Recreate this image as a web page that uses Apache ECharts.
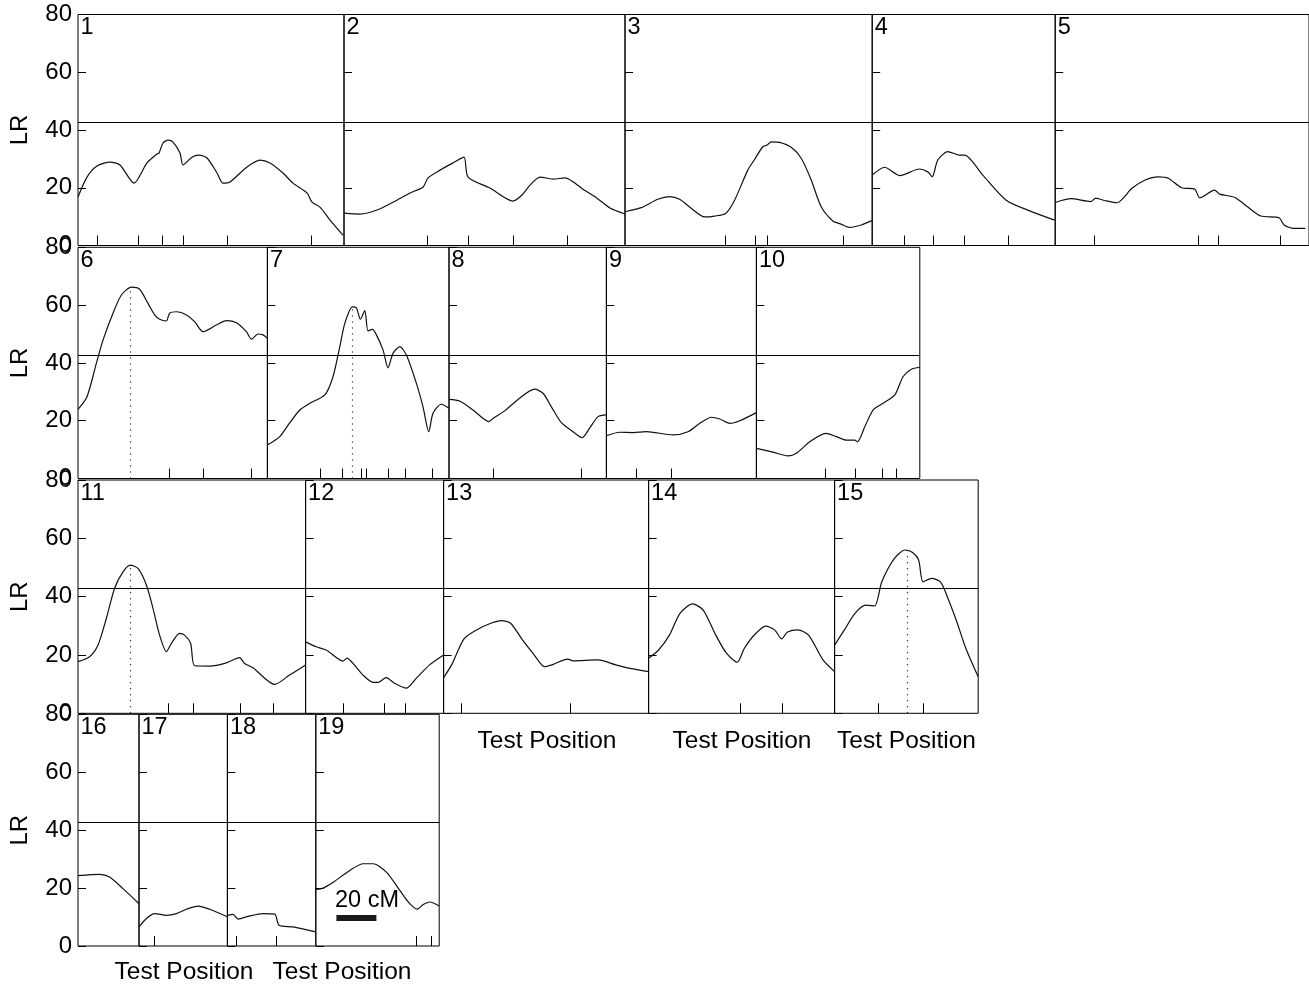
<!DOCTYPE html>
<html>
<head>
<meta charset="utf-8">
<script src="https://cdn.jsdelivr.net/npm/echarts@6/dist/echarts.min.js"></script>
<style>html,body{margin:0;padding:0;background:#fff;}#chart{width:1309px;height:987px;}</style>
</head>
<body>
<div id="chart"></div>
<script>
// ---------------- data ----------------
const chromNames = ['1','2','3','4','5','6','7','8','9','10','11','12','13','14','15','16','17','18','19'];
// chromosome lengths (cM)
const chromLengths = [133,140.5,123.6,91.5,128, 94.7,90.8,78.7,75,81.7, 113.8,69,102.5,93,71.8, 30.5,44.2,44.2,61.7];
const threshold = 42.8;

const chr1 = [[0,16.8],[4.5,23.7],[9.5,27.5],[16,28.9],[21,27.9],[28,21.6],[34.5,28.6],[39.5,31.7],[40.5,32.0],[42.5,35.5],[45,36.5],[47.5,35.8],[51,32.0],[52.5,27.9],[57,30.6],[60.5,31.3],[64.5,30.3],[69.5,25.1],[72.5,21.6],[76,22.0],[84.5,27.2],[91,29.6],[96,28.6],[102.5,25.1],[107.5,21.6],[114.5,18.2],[117,15.0],[121,13.3],[126,8.8],[132.5,3.6]];
const chr2 = [[0,11.2],[8,10.9],[16.5,12.3],[26.5,15.7],[33,18.2],[39.5,20.2],[42,23.4],[48,26.1],[54.5,28.6],[60,30.6],[62,23.7],[73,19.9],[84.5,15.4],[89,17.5],[93,20.9],[98,23.7],[104.5,23.0],[110.5,23.4],[119.5,19.5],[126.5,16.4],[133,13.0],[140.5,10.9]];
const chr3 = [[0,11.7],[8.1,13.1],[16.4,16.0],[22.3,16.9],[27.3,16.0],[33.1,12.9],[39.8,9.9],[44.8,10.2],[50.3,11.1],[54.8,15.7],[61.4,26.1],[64.8,29.8],[68.9,34.2],[71.1,34.8],[73.1,35.9],[77.3,35.7],[83.1,34.0],[88.1,30.2],[93.1,22.7],[98.1,13.4],[103.9,8.5],[108.1,7.4],[112.3,6.3],[118.1,7.1],[123.4,8.6]];
const chr4 = [[0,24.4],[6.2,27.1],[13.7,24.2],[23.7,26.5],[27.8,25.5],[30,23.8],[32.8,29.6],[37.8,32.5],[43.7,31.3],[46.2,31.3],[55.3,24.4],[67,15.7],[78.7,12.0],[91.2,8.8]];
const chr5 = [[0,14.9],[7.9,16.2],[17.9,15.2],[20.4,16.4],[25.4,15.5],[31.2,14.8],[38.7,19.8],[45.4,22.7],[52,23.8],[57,23.3],[63.7,20.0],[70.4,19.5],[72.9,16.5],[80.4,19.2],[82.9,17.8],[90.4,16.7],[97,13.4],[103.7,10.2],[112.9,9.6],[115.4,7.1],[120.4,5.9],[126.2,5.9]];
const chr6 = [[0,23.9],[4.5,28.3],[9.2,39.9],[12.5,47.9],[17.5,57.2],[21.7,63.5],[26.7,66.2],[30.8,65.5],[35,60.6],[38.3,56.6],[40.8,55.1],[44.2,54.5],[45.8,57.2],[49.2,57.7],[54.2,56.6],[58.3,54.3],[62.5,50.8],[69.2,53.1],[74.2,54.6],[79.2,53.9],[84.2,50.8],[86.7,48.2],[90,50.0],[92.5,49.7],[94.7,48.5]];
const chr7 = [[0,11.6],[6.2,14.5],[11.2,19.3],[16.2,23.7],[21.2,26.0],[28.7,28.9],[32.8,35.2],[36.2,45.6],[38.7,53.7],[42.5,59.4],[44.5,59.1],[46.5,55.1],[48.7,58.1],[50.3,51.1],[52.5,51.6],[54.5,49.7],[57.8,44.5],[60.3,38.3],[62.8,43.3],[66.2,45.6],[69.5,42.7],[74.5,32.9],[77.8,24.8],[80.7,16.2],[82.8,22.6],[87,25.7],[90.8,24.3]];
const chr8 = [[0,27.4],[5.3,26.8],[12,23.7],[20,19.7],[22,20.8],[27.8,23.4],[35.3,27.8],[42.8,30.9],[47,29.5],[51.2,24.8],[56.2,19.3],[62,16.2],[66.5,14.1],[70.3,17.4],[74.5,21.4],[78.7,22.0]];
const chr9 = [[0,14.8],[6.7,16.0],[13.3,15.9],[20,16.2],[33.3,15.1],[40.8,16.2],[46.7,19.1],[52.5,21.2],[56.7,20.6],[61.7,19.1],[66.7,20.0],[75,22.8]];
const chr10 = [[0,10.4],[8.3,9.1],[15.8,7.8],[20,8.7],[26.7,12.7],[34.7,15.6],[40,14.5],[45,13.3],[49.2,13.3],[50.5,12.7],[54.2,17.9],[58.3,23.7],[63.3,26.0],[69.2,28.9],[73.3,35.2],[77.5,37.8],[81.7,38.5]];
const chr11 = [[0,17.7],[5.8,19.4],[10,23.4],[14.2,32.6],[18.3,42.9],[22.5,48.5],[26.2,50.8],[30,49.7],[34.2,44.0],[37.5,36.0],[40.8,26.8],[44.2,21.1],[46.7,24.0],[50.8,27.4],[53.3,26.8],[56.3,24.0],[58.3,16.3],[65.8,16.2],[74.2,17.3],[80.8,19.1],[83.3,17.1],[87.5,15.6],[98.3,9.9],[105.8,13.1],[113.8,16.6]];
const chr12 = [[0,24.5],[5.3,22.8],[10.3,21.7],[18.7,17.9],[20.7,18.9],[23.7,17.1],[28.7,13.1],[33.7,10.6],[36.2,10.6],[40.3,12.2],[44.5,10.3],[50.3,8.6],[55.3,12.0],[62,16.6],[69,20.0]];
const chr13 = [[0,12.2],[4,16.6],[10.2,25.5],[16.5,28.6],[23.6,30.9],[29,31.8],[33.5,30.9],[39.7,24.9],[45,20.3],[50.4,16.0],[54.9,16.8],[62,18.6],[64.7,18.0],[77.2,18.3],[86.1,16.6],[93.2,15.4],[102.5,14.3]];
const chr14 = [[0,18.9],[5,21.7],[10.4,26.8],[15.7,34.3],[22,37.5],[27.3,35.4],[33.6,26.8],[38.9,20.6],[44.3,17.5],[47.9,22.3],[53.2,27.1],[58.6,29.9],[63,28.6],[66.6,25.5],[69.3,27.8],[74.7,28.6],[80,26.8],[87.2,18.3],[93,14.3]];
const chr15 = [[0,23.4],[4.9,28.6],[10.2,34.3],[15.6,37.1],[20,36.8],[23.6,45.1],[29.9,53.1],[35.2,56.0],[38.8,55.2],[42,52.6],[44.2,45.1],[48.6,46.3],[53.1,44.9],[56.7,39.4],[61.1,31.4],[65.6,22.3],[71.8,12.5]];
const chr16 = [[0,24.3],[10.8,24.7],[15.8,23.8],[22.5,19.8],[30.5,14.6]];
const chr17 = [[0,6.6],[3.7,9.5],[7.8,11.2],[13.7,10.6],[18.7,11.2],[23.7,12.7],[29.5,13.8],[35.3,12.7],[44.2,10.1]];
const chr18 = [[0,10.6],[2.8,10.9],[5.3,9.3],[11.2,10.4],[17.8,11.2],[23.7,11.0],[25.8,7.2],[32.8,6.6],[44.2,4.9]];
const chr19 = [[0,19.5],[3.7,20.0],[8.7,22.0],[17,26.1],[23.7,28.4],[28.7,28.4],[35.3,25.5],[42,19.2],[47,14.6],[50.7,12.7],[53.7,14.3],[57,15.2],[61.7,13.8]];
const profiles = [chr1,chr2,chr3,chr4,chr5,chr6,chr7,chr8,chr9,chr10,chr11,chr12,chr13,chr14,chr15,chr16,chr17,chr18,chr19];

// marker positions (cM) shown as ticks on the bottom of each panel
const markerTicks = [
  [9.5,30,42,52.5,74.5,116.5],[41.5,62,84.5,111.5],[50.2,65.2,70.9,109.3],[15.8,30.3,46.2,67.8],[19.5,72,82,113.3],
  [45.8,62.5,86.7],[26.5,37.3,47,49.2,60.3,69,82.5],[22,66.2],[15,32.5],[34.5,49.2,62.8,70],
  [45,57.8,81.2,97.8],[18.7,39.5,50],[9,63.5],[46,67],[21.8,44.2],
  [],[7.8],[4.2,24.2],[50.3,57.5]
];
// significant peaks: chromosome index -> [position cM, LR]
const peakChrom = [5, 6, 10, 14];
const peakPos = [26.2, 42.5, 26.2, 36.1];
const peakLR = [66.0, 59.0, 50.5, 55.8];

const scaleBarStart = 10.3, scaleBarLength = 20, scaleBarLR = 9.8; // in panel 19
const scaleBarText = '20 cM';
const axisTitleY = 'LR';
const axisTitleX = 'Test Position';

// ---------------- layout ----------------
const rows = [[0,1,2,3,4],[5,6,7,8,9],[10,11,12,13,14],[15,16,17,18]];
const rowTop = [14.5, 247.3, 480, 714.3];
const rowHeight = [231, 231.2, 233.3, 231.7];
const leftStart = 78, pxPerCM = 2;
const FONT = 'Liberation Sans, Arial, Helvetica, sans-serif';

const grids = [], xAxes = [], yAxes = [], series = [], graphics = [];
const gridRect = [];
rows.forEach((row, r) => {
  let x = leftStart;
  row.forEach((ci, k) => {
    const w = chromLengths[ci] * pxPerCM;
    gridRect[ci] = {left: x, top: rowTop[r], width: w, height: rowHeight[r], first: k === 0, row: r};
    x += w;
  });
});

for (let i = 0; i < 19; i++) {
  const g = gridRect[i];
  grids.push({left: g.left, top: g.top, width: g.width, height: g.height, show: true,
    borderColor: '#000', borderWidth: 1, backgroundColor: 'transparent', containLabel: false});
  xAxes.push({type: 'value', gridIndex: i, min: 0, max: chromLengths[i],
    axisLine: {show: false}, splitLine: {show: false},
    axisTick: {show: markerTicks[i].length > 0, inside: true, length: 10, customValues: markerTicks[i], lineStyle: {color: '#000', width: 1}},
    axisLabel: {show: false}});
  yAxes.push({type: 'value', gridIndex: i, min: 0, max: 80, interval: 20,
    axisLine: {show: false}, splitLine: {show: false},
    axisTick: {show: true, inside: true, length: 8, lineStyle: {color: '#000', width: 1}},
    axisLabel: {show: g.first, fontSize: 24, color: '#000', margin: 6, fontFamily: FONT},
    name: g.first ? axisTitleY : '', nameLocation: 'middle', nameRotate: 90, nameGap: 46,
    nameTextStyle: {fontSize: 24, color: '#000', fontFamily: FONT}});

  const pk = peakChrom.indexOf(i);
  const mlines = [{yAxis: threshold, lineStyle: {type: 'solid', width: 1.2, color: '#000'}}];
  if (pk >= 0) {
    mlines.push([{coord: [peakPos[pk], 0], lineStyle: {type: [1, 5], width: 1.2, color: '#000'}}, {coord: [peakPos[pk], peakLR[pk]]}]);
  }
  if (i === 18) {
    mlines.push([{coord: [scaleBarStart, scaleBarLR], lineStyle: {type: 'solid', width: 6, color: '#1a1a1a', cap: 'butt'}},
                 {coord: [scaleBarStart + scaleBarLength, scaleBarLR]}]);
  }
  series.push({type: 'line', xAxisIndex: i, yAxisIndex: i, data: profiles[i],
    showSymbol: false, symbol: 'none', smooth: 0.25, clip: true,
    lineStyle: {color: '#111', width: 1.2}, silent: true,
    markLine: {silent: true, symbol: ['none','none'], label: {show: false}, animation: false, data: mlines}});

  graphics.push({type: 'text', left: g.left + 2.5, top: g.top + 1.5, silent: true,
    style: {text: chromNames[i], fontSize: 23.5, fill: '#000', fontFamily: FONT}});
}

// x-axis titles (positioned as in the original figure)
const xTitleCenters = [[547, 741], [742, 741], [906.5, 741], [184, 972], [342, 972]];
xTitleCenters.forEach(([cx, cy]) => {
  graphics.push({type: 'text', x: cx, y: cy, silent: true,
    style: {text: axisTitleX, fontSize: 24.5, fill: '#000', fontFamily: FONT, align: 'center', verticalAlign: 'middle'}});
});
graphics.push({type: 'text', x: 335, y: 913, silent: true,
  style: {text: scaleBarText, fontSize: 23.5, fill: '#000', fontFamily: FONT, align: 'left', verticalAlign: 'bottom'}});

const chart = echarts.init(document.getElementById('chart'), null, {renderer: 'canvas'});
chart.setOption({
  animation: false,
  backgroundColor: '#fff',
  grid: grids, xAxis: xAxes, yAxis: yAxes, series: series, graphic: graphics
});
</script>
</body>
</html>
